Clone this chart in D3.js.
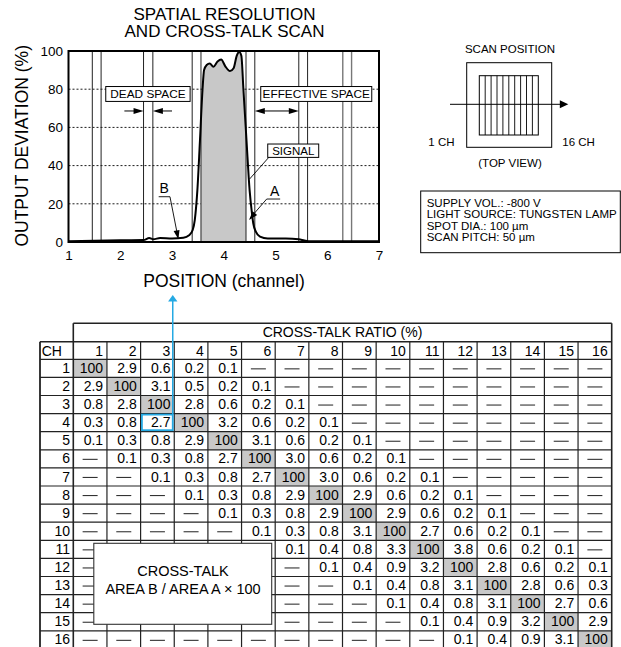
<!DOCTYPE html>
<html><head><meta charset="utf-8">
<script src="https://cdn.jsdelivr.net/npm/d3@7"></script>
<style>
html,body{margin:0;padding:0;background:#fff;}
svg{display:block;font-family:"Liberation Sans",Arial,Helvetica,sans-serif;}
</style></head><body>
<svg id="chart" width="621" height="647"></svg>
<script>
// ---------- data ----------
const scanPos    = [1.0, 1.5, 2.0, 2.45, 2.56, 2.64, 2.77, 3.0, 3.22, 3.33, 3.40, 3.44, 3.49, 3.54, 3.59, 3.62, 3.67, 3.73, 3.80, 3.88, 3.95, 4.03, 4.12, 4.19, 4.25, 4.30, 4.34, 4.38, 4.44, 4.50, 4.545, 4.57, 4.62, 4.70, 4.85, 5.2, 5.45, 5.56, 5.68, 6.2, 7.0];
const scanOutput = [0.4, 0.7, 0.9, 1.0, 2.1, 1.4, 2.1, 1.8, 2.2, 3.5, 6.3, 11.5, 27, 53, 80, 90, 92.7, 93.5, 91.8, 94.5, 95.5, 92, 89.5, 91, 97.5, 99.5, 97.5, 80, 53, 27, 15, 9.8, 5.4, 2.8, 1.8, 1.8, 1.4, 0.8, 0.4, 0.4, 0.4];
const xTickValues = [1, 2, 3, 4, 5, 6, 7];
const yTickValues = [0, 20, 40, 60, 80, 100];
const gridValues = [20, 40, 60, 80];
const boundaryLines = [1.46, 1.63, 2.45, 2.63, 3.39, 3.56, 4.43, 4.60, 5.45, 5.62, 6.30, 6.47];
const signalRange = [3.56, 4.43];
const channels = ["1","2","3","4","5","6","7","8","9","10","11","12","13","14","15","16"];
const _ = null;
const crossTalk = [
  [100, 2.9, 0.6, 0.2, 0.1, _, _, _, _, _, _, _, _, _, _, _],
  [2.9, 100, 3.1, 0.5, 0.2, 0.1, _, _, _, _, _, _, _, _, _, _],
  [0.8, 2.8, 100, 2.8, 0.6, 0.2, 0.1, _, _, _, _, _, _, _, _, _],
  [0.3, 0.8, 2.7, 100, 3.2, 0.6, 0.2, 0.1, _, _, _, _, _, _, _, _],
  [0.1, 0.3, 0.8, 2.9, 100, 3.1, 0.6, 0.2, 0.1, _, _, _, _, _, _, _],
  [_, 0.1, 0.3, 0.8, 2.7, 100, 3.0, 0.6, 0.2, 0.1, _, _, _, _, _, _],
  [_, _, 0.1, 0.3, 0.8, 2.7, 100, 3.0, 0.6, 0.2, 0.1, _, _, _, _, _],
  [_, _, _, 0.1, 0.3, 0.8, 2.9, 100, 2.9, 0.6, 0.2, 0.1, _, _, _, _],
  [_, _, _, _, 0.1, 0.3, 0.8, 2.9, 100, 2.9, 0.6, 0.2, 0.1, _, _, _],
  [_, _, _, _, _, 0.1, 0.3, 0.8, 3.1, 100, 2.7, 0.6, 0.2, 0.1, _, _],
  [_, _, _, _, _, _, 0.1, 0.4, 0.8, 3.3, 100, 3.8, 0.6, 0.2, 0.1, _],
  [_, _, _, _, _, _, _, 0.1, 0.4, 0.9, 3.2, 100, 2.8, 0.6, 0.2, 0.1],
  [_, _, _, _, _, _, _, _, 0.1, 0.4, 0.8, 3.1, 100, 2.8, 0.6, 0.3],
  [_, _, _, _, _, _, _, _, _, 0.1, 0.4, 0.8, 3.1, 100, 2.7, 0.6],
  [_, _, _, _, _, _, _, _, _, _, 0.1, 0.4, 0.9, 3.2, 100, 2.9],
  [_, _, _, _, _, _, _, _, _, _, _, 0.1, 0.4, 0.9, 3.1, 100]
];
const highlightCell = {row: 4, col: 3};
const infoLines = ["SUPPLY VOL.: -800 V", "LIGHT SOURCE: TUNGSTEN LAMP", "SPOT DIA.: 100 \u00b5m", "SCAN PITCH: 50 \u00b5m"];
const scanStripCount = 10;

// ---------- setup ----------
const svg = d3.select("#chart");
const FONT = '"Liberation Sans",Arial,Helvetica,sans-serif';
const BLUE = "#25a9e3";
const GREY = "#c8c8c8";

const x = d3.scaleLinear().domain([1, 7]).range([68.5, 379]);
const y = d3.scaleLinear().domain([0, 100]).range([242, 51]);

function arrowHead(g, x1, y1, x2, y2, len, half, color) {
  const a = Math.atan2(y2 - y1, x2 - x1);
  const bx = x2 - len * Math.cos(a), by = y2 - len * Math.sin(a);
  const px = -Math.sin(a) * half, py = Math.cos(a) * half;
  g.append("path")
    .attr("d", `M${x2},${y2}L${bx + px},${by + py}L${bx - px},${by - py}Z`)
    .attr("fill", color || "#000");
}

// ---------- titles ----------
svg.append("text").attr("x", 224.5).attr("y", 20).attr("text-anchor", "middle")
  .attr("font-size", 17).text("SPATIAL RESOLUTION");
svg.append("text").attr("x", 224.5).attr("y", 37.3).attr("text-anchor", "middle")
  .attr("font-size", 17).text("AND CROSS-TALK SCAN");

// ---------- plot ----------
const plot = svg.append("g");

// grid
plot.selectAll("line.grid").data(gridValues).enter().append("line")
  .attr("x1", x(1)).attr("x2", x(7)).attr("y1", d => y(d)).attr("y2", d => y(d))
  .attr("stroke", "#000").attr("stroke-width", 0.9).attr("stroke-dasharray", "2,2");

// signal fill
const clip = svg.append("defs").append("clipPath").attr("id", "sigclip");
clip.append("rect").attr("x", x(signalRange[0])).attr("y", y(100) - 5)
  .attr("width", x(signalRange[1]) - x(signalRange[0])).attr("height", y(0) - y(100) + 5);
const pts = scanPos.map((p, i) => [p, scanOutput[i]]);
const area = d3.area().x(d => x(d[0])).y0(y(0)).y1(d => y(d[1])).curve(d3.curveMonotoneX);
plot.append("path").datum(pts).attr("d", area).attr("fill", GREY).attr("clip-path", "url(#sigclip)");

// boundary lines
plot.selectAll("line.bnd").data(boundaryLines).enter().append("line")
  .attr("x1", d => x(d)).attr("x2", d => x(d)).attr("y1", y(100)).attr("y2", y(0))
  .attr("stroke", (d, i) => i >= 10 ? "#777" : "#222").attr("stroke-width", (d, i) => i >= 10 ? 1.4 : 1);

// annotation boxes
function labelBox(x0, x1, yTop, yBot, txt, fs) {
  const g = plot.append("g");
  g.append("rect").attr("x", x(x0)).attr("y", y(yTop)).attr("width", x(x1) - x(x0)).attr("height", y(yBot) - y(yTop))
    .attr("fill", "#fff").attr("stroke", "#000").attr("stroke-width", 1);
  g.append("text").attr("x", (x(x0) + x(x1)) / 2).attr("y", (y(yTop) + y(yBot)) / 2 + fs * 0.36)
    .attr("text-anchor", "middle").attr("font-size", fs).text(txt);
}
labelBox(1.72, 3.35, 81.4, 73.6, "DEAD SPACE", 11.8);
labelBox(4.715, 6.86, 81.4, 73.6, "EFFECTIVE SPACE", 11.8);
labelBox(4.85, 5.835, 51.3, 44.3, "SIGNAL", 11.5);

// dead space arrows
const ay = y(68.6);
plot.append("line").attr("x1", x(2.08)).attr("x2", x(2.45) - 6).attr("y1", ay).attr("y2", ay).attr("stroke", "#000").attr("stroke-width", 1);
arrowHead(plot, x(2.08), ay, x(2.45), ay, 10, 3);
plot.append("line").attr("x1", x(2.63) + 6).attr("x2", x(3.0)).attr("y1", ay).attr("y2", ay).attr("stroke", "#000").attr("stroke-width", 1);
arrowHead(plot, x(3.0), ay, x(2.63), ay, 10, 3);
// effective space double arrow
plot.append("line").attr("x1", x(4.60) + 6).attr("x2", x(5.45) - 6).attr("y1", ay).attr("y2", ay).attr("stroke", "#000").attr("stroke-width", 1);
arrowHead(plot, x(5.0), ay, x(4.60), ay, 10, 3);
arrowHead(plot, x(5.0), ay, x(5.45), ay, 10, 3);

// curve
const line = d3.line().x(d => x(d[0])).y(d => y(d[1])).curve(d3.curveMonotoneX);
plot.append("path").datum(pts).attr("d", line).attr("fill", "none").attr("stroke", "#000").attr("stroke-width", 2);

// signal leader
plot.append("line").attr("x1", x(4.87)).attr("y1", y(44.3)).attr("x2", x(4.5)).attr("y2", y(33))
  .attr("stroke", "#000").attr("stroke-width", 0.9);

// A label
plot.append("text").attr("x", x(4.985)).attr("y", y(24.2)).attr("text-anchor", "middle").attr("font-size", 14).text("A");
plot.append("line").attr("x1", x(4.83)).attr("x2", x(5.09)).attr("y1", y(22.5)).attr("y2", y(22.5)).attr("stroke", "#000").attr("stroke-width", 0.9);
plot.append("line").attr("x1", x(4.83)).attr("y1", y(22.5)).attr("x2", x(4.51)).attr("y2", y(12.5)).attr("stroke", "#000").attr("stroke-width", 0.9);
arrowHead(plot, x(4.83), y(22.5), x(4.49), y(11.5), 9, 3);

// B label
plot.append("text").attr("x", x(2.85)).attr("y", y(25.5)).attr("text-anchor", "middle").attr("font-size", 14).text("B");
plot.append("line").attr("x1", x(2.743)).attr("x2", x(2.961)).attr("y1", y(23.7)).attr("y2", y(23.7)).attr("stroke", "#000").attr("stroke-width", 0.9);
plot.append("line").attr("x1", x(2.961)).attr("y1", y(23.7)).attr("x2", x(3.115)).attr("y2", y(2.5)).attr("stroke", "#000").attr("stroke-width", 0.9);
arrowHead(plot, x(2.961), y(23.7), x(3.122), y(1.4), 9, 3);

// frame
plot.append("rect").attr("x", x(1)).attr("y", y(100)).attr("width", x(7) - x(1)).attr("height", y(0) - y(100))
  .attr("fill", "none").attr("stroke", "#000").attr("stroke-width", 2);

// axes
const yAxis = d3.axisLeft(y).tickValues(yTickValues).tickSize(0).tickPadding(5.5);
const gy = svg.append("g").attr("transform", `translate(${x(1)},0)`).call(yAxis);
const xAxis = d3.axisBottom(x).tickValues(xTickValues).tickSize(0).tickPadding(8).tickFormat(d3.format("d"));
const gx = svg.append("g").attr("transform", `translate(0,${y(0)})`).call(xAxis);
[gx, gy].forEach(g => {
  g.select(".domain").remove();
  g.selectAll("text").attr("font-size", 13.5).attr("font-family", FONT).attr("fill", "#000");
});

svg.append("text").attr("x", 224).attr("y", 287.3).attr("text-anchor", "middle").attr("font-size", 17.5).text("POSITION (channel)");
svg.append("text").attr("transform", "translate(28.3,145.8) rotate(-90)").attr("text-anchor", "middle")
  .attr("font-size", 17.5).text("OUTPUT DEVIATION (%)");

// ---------- scan position diagram ----------
const sd = svg.append("g");
sd.append("text").attr("x", 510).attr("y", 52.7).attr("text-anchor", "middle").attr("font-size", 11.5).text("SCAN POSITION");
sd.append("rect").attr("x", 466.7).attr("y", 62.7).attr("width", 85).attr("height", 84.6).attr("fill", "none").attr("stroke", "#000").attr("stroke-width", 1);
const stripX = d3.scaleLinear().domain([0, scanStripCount]).range([479.3, 538.3]);
sd.append("rect").attr("x", stripX(0)).attr("y", 75.7).attr("width", stripX(scanStripCount) - stripX(0)).attr("height", 59.3).attr("fill", "none").attr("stroke", "#000").attr("stroke-width", 1);
sd.selectAll("line.strip").data(d3.range(1, scanStripCount)).enter().append("line")
  .attr("x1", d => stripX(d)).attr("x2", d => stripX(d)).attr("y1", 75.7).attr("y2", 135)
  .attr("stroke", "#000").attr("stroke-width", 0.9);
sd.append("line").attr("x1", 450).attr("x2", 560).attr("y1", 104.3).attr("y2", 104.3).attr("stroke", "#000").attr("stroke-width", 1);
arrowHead(sd, 450, 104.3, 568.3, 104.3, 8.5, 4);
sd.append("text").attr("x", 428.3).attr("y", 146).attr("font-size", 11.5).text("1 CH");
sd.append("text").attr("x", 562.3).attr("y", 146).attr("font-size", 11.5).text("16 CH");
sd.append("text").attr("x", 510).attr("y", 166.7).attr("text-anchor", "middle").attr("font-size", 11.5).text("(TOP VIEW)");

// info box
const ib = svg.append("g");
ib.append("rect").attr("x", 420.7).attr("y", 191).attr("width", 199.6).attr("height", 61.7).attr("fill", "#fff").attr("stroke", "#000").attr("stroke-width", 1);
ib.selectAll("text").data(infoLines).enter().append("text")
  .attr("x", 426.7).attr("y", (d, i) => 206.7 + i * 11.4).attr("font-size", 11.5).text(d => d);

// ---------- table ----------
const tX = d3.scaleLinear().domain([0, 16]).range([73.3, 611.7]);
const rowH = 18.1;
const tY = d3.scaleLinear().domain([0, 16]).range([359.3, 359.3 + 16 * rowH]);
const headTop = 323.3, chTop = 341.7, chLeft = 40;
const baseOff = 13.6;
const tb = svg.append("g");

// grey diagonal cells
const cells = [];
crossTalk.forEach((row, r) => row.forEach((v, c) => cells.push({r, c, v})));
tb.selectAll("rect.diag").data(cells.filter(d => d.v === 100)).enter().append("rect")
  .attr("x", d => tX(d.c)).attr("y", d => tY(d.r)).attr("width", tX(1) - tX(0)).attr("height", rowH)
  .attr("fill", GREY);

// grid lines
const bottomY = tY(16);
tb.selectAll("line.h").data(d3.range(0, 17)).enter().append("line")
  .attr("x1", chLeft).attr("x2", tX(16)).attr("y1", d => tY(d)).attr("y2", d => tY(d))
  .attr("stroke", "#222").attr("stroke-width", 1.2);
tb.append("line").attr("x1", chLeft).attr("x2", tX(16)).attr("y1", chTop).attr("y2", chTop).attr("stroke", "#222").attr("stroke-width", 1.6);
tb.append("line").attr("x1", tX(0)).attr("x2", tX(16)).attr("y1", headTop).attr("y2", headTop).attr("stroke", "#222").attr("stroke-width", 1.6);
tb.selectAll("line.v").data(d3.range(1, 16)).enter().append("line")
  .attr("x1", d => tX(d)).attr("x2", d => tX(d)).attr("y1", chTop).attr("y2", bottomY)
  .attr("stroke", "#222").attr("stroke-width", 1.2);
tb.append("line").attr("x1", tX(0)).attr("x2", tX(0)).attr("y1", headTop).attr("y2", bottomY).attr("stroke", "#222").attr("stroke-width", 1.6);
tb.append("line").attr("x1", tX(16)).attr("x2", tX(16)).attr("y1", headTop).attr("y2", bottomY).attr("stroke", "#222").attr("stroke-width", 1.6);
tb.append("line").attr("x1", chLeft).attr("x2", chLeft).attr("y1", chTop).attr("y2", bottomY).attr("stroke", "#222").attr("stroke-width", 1.8);

// headers
tb.append("text").attr("x", (tX(0) + tX(16)) / 2).attr("y", 336.7).attr("text-anchor", "middle").attr("font-size", 14).text("CROSS-TALK RATIO (%)");
tb.append("text").attr("x", 41.7).attr("y", 356).attr("font-size", 14).text("CH");
tb.selectAll("text.colh").data(channels).enter().append("text")
  .attr("x", (d, i) => tX(i + 1) - 4).attr("y", 356).attr("text-anchor", "end").attr("font-size", 14).text(d => d);
tb.selectAll("text.rowh").data(channels).enter().append("text")
  .attr("x", tX(0) - 3.3).attr("y", (d, i) => tY(i) + baseOff).attr("text-anchor", "end").attr("font-size", 14).text(d => d);

// cell values
const fmt = v => v === 100 ? "100" : v.toFixed(1);
tb.selectAll("text.val").data(cells.filter(d => d.v !== null)).enter().append("text")
  .attr("x", d => tX(d.c + 1) - 3.8).attr("y", d => tY(d.r) + baseOff).attr("text-anchor", "end")
  .attr("font-size", 14).text(d => fmt(d.v));
tb.selectAll("line.dash").data(cells.filter(d => d.v === null)).enter().append("line")
  .attr("x1", d => (tX(d.c) + tX(d.c + 1)) / 2 - 7.5).attr("x2", d => (tX(d.c) + tX(d.c + 1)) / 2 + 7.5)
  .attr("y1", d => tY(d.r) + rowH / 2 + 0.5).attr("y2", d => tY(d.r) + rowH / 2 + 0.5)
  .attr("stroke", "#333").attr("stroke-width", 1.1);

// overlay box
const ob = svg.append("g");
ob.append("rect").attr("x", 93.8).attr("y", 543.3).attr("width", 177.9).attr("height", 81).attr("fill", "#fff").attr("stroke", "#333").attr("stroke-width", 1.1);
ob.append("text").attr("x", 183).attr("y", 576).attr("text-anchor", "middle").attr("font-size", 14.5).text("CROSS-TALK");
ob.append("text").attr("x", 183).attr("y", 594).attr("text-anchor", "middle").attr("font-size", 14.5).text("AREA B / AREA A \u00d7 100");

// blue highlight and pointer
const hc = highlightCell;
const bx0 = tX(hc.col - 1) + 1.3, bx1 = tX(hc.col) - 1.5;
const by0 = tY(hc.row - 1) + 1, by1 = tY(hc.row) - 1.5;
svg.append("rect").attr("x", bx0).attr("y", by0).attr("width", bx1 - bx0).attr("height", by1 - by0)
  .attr("fill", "none").attr("stroke", BLUE).attr("stroke-width", 1.8);
svg.append("line").attr("x1", bx1).attr("x2", bx1).attr("y1", 300).attr("y2", by0)
  .attr("stroke", BLUE).attr("stroke-width", 1.5);
arrowHead(svg, bx1, 320, bx1, 295, 6.5, 4.7, BLUE);
</script>
</body></html>
